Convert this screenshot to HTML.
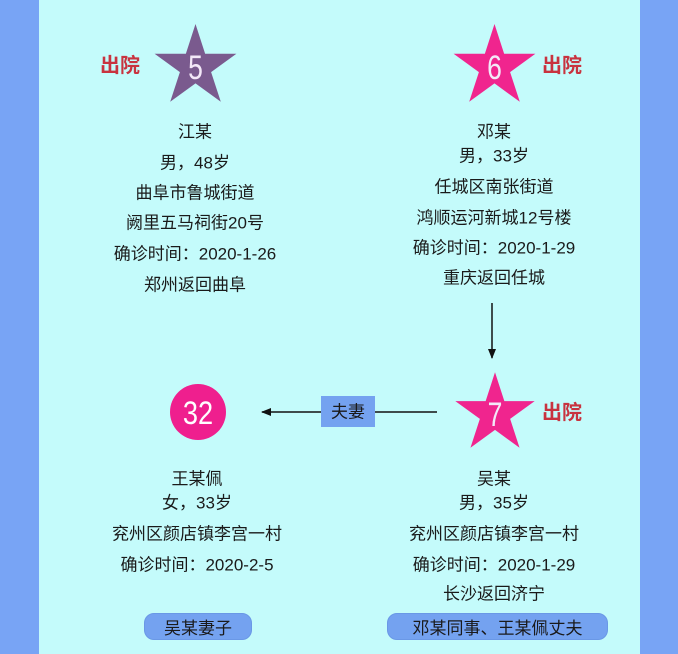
<!DOCTYPE html>
<html><head><meta charset="utf-8"><style>
html,body{margin:0;padding:0}
body{width:678px;height:654px;position:relative;background:#78a4f5;overflow:hidden;font-family:"Liberation Sans","Noto Sans CJK SC",sans-serif}
#bg{position:absolute;left:39px;top:0;width:601px;height:654px;background:#c4fbfb}
.t{position:absolute;transform:translate(-50%,-50%);white-space:nowrap;font-size:17px;color:#1a1a1a;line-height:1}
.r{position:absolute;transform:translate(-50%,-50%);white-space:nowrap;font-size:20px;color:#c8333f;line-height:1;font-weight:bold}
.pill{position:absolute;background:#74a2f0;border-radius:10px;font-size:17px;color:#1a1a1a;display:flex;align-items:center;justify-content:center;border:1px solid #6a98e6;box-sizing:border-box}
svg{position:absolute;left:0;top:0}
</style></head><body>
<div id="bg"></div>
<svg width="678" height="654">
<defs>
<polygon id="st" points="0,-43 9.64,-13.27 40.9,-13.3 15.6,5.07 25.3,34.8 0,16.4 -25.3,34.8 -15.6,5.07 -40.9,-13.3 -9.64,-13.27"/>
<marker id="ah" markerWidth="10" markerHeight="8" refX="9" refY="4" orient="auto" markerUnits="userSpaceOnUse"><path d="M0,0 L10,4 L0,8 Z" fill="#111"/></marker>
</defs>
<use href="#st" transform="translate(195.5,67)" fill="#7a5a8e"/>
<use href="#st" transform="translate(494.5,67)" fill="#f0258e"/>
<use href="#st" transform="translate(495,414) scale(0.97)" fill="#f0258e"/>
<circle cx="198" cy="412" r="28" fill="#ef1f8e"/>
<line x1="492" y1="303" x2="492" y2="358" stroke="#111" stroke-width="1.5" marker-end="url(#ah)"/>
<line x1="437" y1="412" x2="262" y2="412" stroke="#111" stroke-width="1.5" marker-end="url(#ah)"/>
<rect x="321" y="396" width="54" height="31" fill="#74a2f0"/>
<g font-family="Liberation Sans,sans-serif" fill="#f3e8f8" text-anchor="middle" font-size="34">
<text transform="translate(195.5,79) scale(0.78,1)">5</text>
<text transform="translate(494.5,79) scale(0.78,1)">6</text>
<text transform="translate(495,426) scale(0.78,1)">7</text>
<text transform="translate(198,424) scale(0.85,1)" font-size="32" fill="#fff">32</text>
</g>
</svg>
<div class="t" style="left:348px;top:412px">夫妻</div>
<div class="r" style="left:120px;top:66px">出院</div>
<div class="r" style="left:562px;top:66px">出院</div>
<div class="r" style="left:562px;top:413px">出院</div>

<div class="t" style="left:195px;top:132px">江某</div>
<div class="t" style="left:195px;top:163px">男，48岁</div>
<div class="t" style="left:195px;top:193px">曲阜市鲁城街道</div>
<div class="t" style="left:195px;top:223px">阙里五马祠街20号</div>
<div class="t" style="left:195px;top:254px">确诊时间：2020-1-26</div>
<div class="t" style="left:195px;top:285px">郑州返回曲阜</div>

<div class="t" style="left:494px;top:132px">邓某</div>
<div class="t" style="left:494px;top:156px">男，33岁</div>
<div class="t" style="left:494px;top:187px">任城区南张街道</div>
<div class="t" style="left:494px;top:218px">鸿顺运河新城12号楼</div>
<div class="t" style="left:494px;top:248px">确诊时间：2020-1-29</div>
<div class="t" style="left:494px;top:278px">重庆返回任城</div>

<div class="t" style="left:197px;top:479px">王某佩</div>
<div class="t" style="left:197px;top:503px">女，33岁</div>
<div class="t" style="left:197px;top:534px">兖州区颜店镇李宫一村</div>
<div class="t" style="left:197px;top:565px">确诊时间：2020-2-5</div>

<div class="t" style="left:494px;top:479px">吴某</div>
<div class="t" style="left:494px;top:503px">男，35岁</div>
<div class="t" style="left:494px;top:534px">兖州区颜店镇李宫一村</div>
<div class="t" style="left:494px;top:565px">确诊时间：2020-1-29</div>
<div class="t" style="left:494px;top:594px">长沙返回济宁</div>

<div class="pill" style="left:144px;top:613px;width:108px;height:27px">吴某妻子</div>
<div class="pill" style="left:387px;top:613px;width:221px;height:27px">邓某同事、王某佩丈夫</div>
</body></html>
